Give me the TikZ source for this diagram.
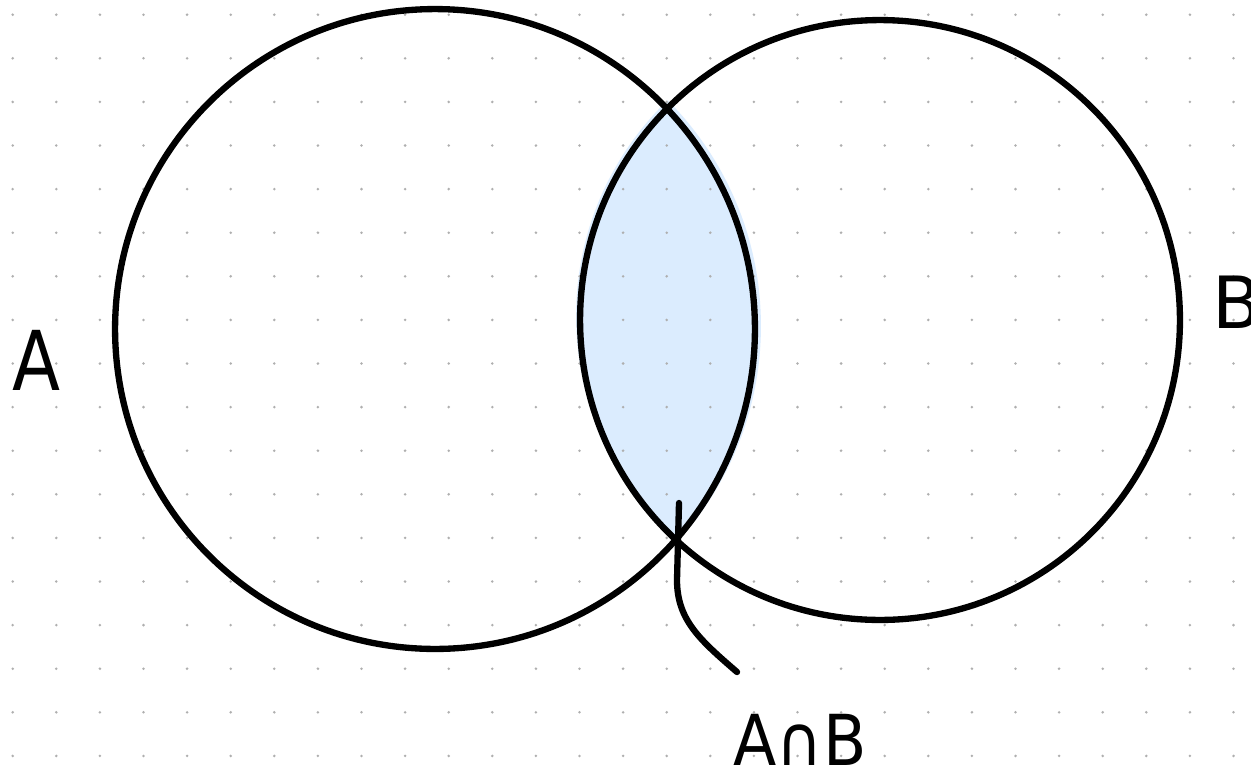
\documentclass[tikz,border=0pt]{standalone}
\usepackage{fontspec}
\setmainfont{DejaVu Sans}
\definecolor{lensblue}{RGB}{219,236,254}
\definecolor{dotgray}{RGB}{175,175,175}
\tikzset{
  setcircle/.style={circle, draw=black, line width=3.6pt, inner sep=0pt, outer sep=0pt},
  hand/.style={inner sep=0pt, text=black},
  connector/.style={draw=black, line width=3.6pt, line cap=round},
}
\begin{document}
\begin{tikzpicture}[x=0.02cm, y=-0.02cm]
\useasboundingbox (0,0) rectangle (1251,775);
\fill[white] (0,0) rectangle (1251,775);
% shaded intersection (slightly offset, hand-coloured)
\begin{scope}
  \clip (441,326) circle[radius=6.4cm];
  \fill[lensblue] (876,316) circle[radius=6.0cm];
\end{scope}
% dotted grid
\foreach \i in {0,...,28}
  \foreach \j in {0,...,17}
    \fill[dotgray] ({12.7+43.6*\i},{14.7+43.6*\j}) circle[radius=0.8pt];
% sets
\node[setcircle, minimum size=12.8cm] (A) at (435,329) {};
\node[setcircle, minimum size=12.0cm] (B) at (880,320) {};
% labels
\node[hand, anchor=base west, font=\fontsize{47}{50}\selectfont, xscale=0.85] (la) at (12,390) {A};
\node[hand, anchor=base west, font=\fontsize{41}{44}\selectfont] (lb) at (1212,328) {B};
\node[hand, anchor=base, font=\fontsize{40}{44}\selectfont, xscale=0.9] (lab) at (800,765) {A∩B};
% pointer
\coordinate (p1) at (679,503);
\coordinate (p2) at (737,672);
\draw[connector] (p1) -- (677,580) .. controls (677,620) and (700,640) .. (p2);
\end{tikzpicture}
\end{document}
